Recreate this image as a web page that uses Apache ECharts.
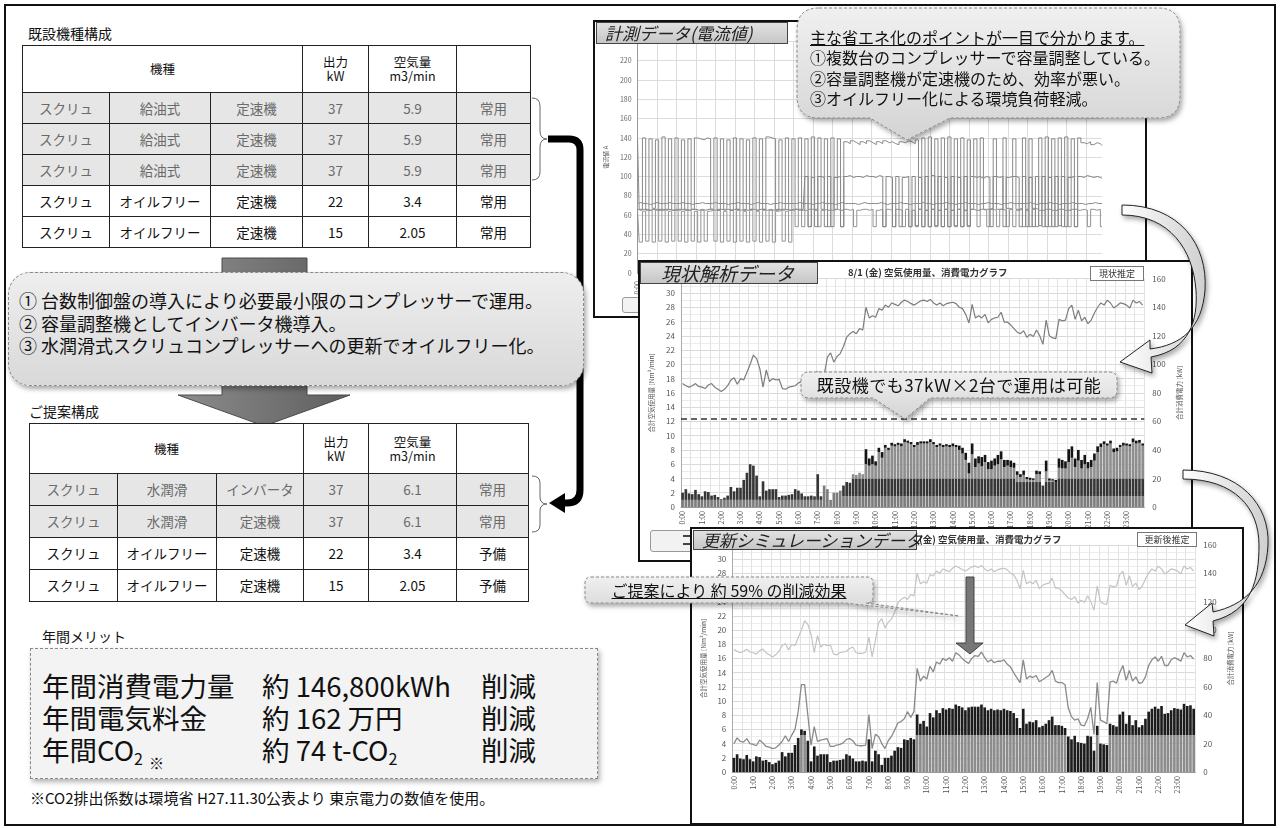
<!DOCTYPE html>
<html lang="ja">
<head>
<meta charset="utf-8">
<title>コンプレッサー更新のご提案</title>
<script src="https://cdn.jsdelivr.net/npm/echarts@6/dist/echarts.min.js"></script>
<style>
html,body{margin:0;padding:0;background:#fff;}
body{width:1280px;height:828px;position:relative;overflow:hidden;font-family:"Noto Sans CJK JP","Noto Sans",sans-serif;color:#111;}
.abs{position:absolute;}
#frame{left:4px;top:4px;width:1272px;height:822px;border:2px solid #111;box-sizing:border-box;z-index:0;}
.h{font-size:14px;white-space:nowrap;}
table.spec{position:absolute;border-collapse:collapse;table-layout:fixed;font-size:13.5px;z-index:3;background:#fff;}
table.spec td{border:1px solid #222;text-align:center;padding:0;line-height:1.1;}
table.spec tr.g td{background:#e6e6e6;color:#6a6a6a;}
table.spec td.hd{font-size:12.5px;}
.box1{left:8px;top:272px;width:576px;height:114px;border-radius:22px;border:1px dashed #8a8a8a;box-sizing:border-box;
  background:linear-gradient(#eeeeee,#d9d9d9);box-shadow:2px 3px 5px rgba(0,0,0,0.35);z-index:2;}
.box1 div{position:absolute;left:10px;top:16px;font-size:18px;line-height:22.5px;white-space:nowrap;color:#111;}
.merit{left:30px;top:648px;width:568px;height:131px;border:1px dashed #888;box-sizing:border-box;background:#f3f3f3;
  box-shadow:2px 3px 5px rgba(0,0,0,0.3);z-index:2;}
.ml{position:absolute;font-size:27.5px;line-height:32px;white-space:nowrap;color:#111;}
.ml sub{font-size:16px;vertical-align:-4px;}
.panel{position:absolute;border:2px solid #111;background:#fff;box-sizing:border-box;}
.tab{position:absolute;background:linear-gradient(#e2e2e2,#c6c6c6);border:1px solid #444;box-sizing:border-box;
  font-style:italic;white-space:nowrap;color:#222;z-index:5;padding-left:8px;}
.ttl{position:absolute;font-size:9.5px;font-weight:bold;color:#333;white-space:nowrap;z-index:4;}
.tag{position:absolute;font-size:9px;border:1px solid #777;box-sizing:border-box;text-align:center;color:#333;background:#fff;z-index:4;line-height:13px;}
.chart{position:absolute;left:0;top:0;}
.btn{position:absolute;background:#f2f2f2;border:1px solid #999;border-radius:3px;box-sizing:border-box;}
.ctext{position:absolute;white-space:nowrap;color:#111;}
svg{position:absolute;left:0;top:0;overflow:visible;}
</style>
</head>
<body>
<div id="frame" class="abs"></div>

<!-- left column: existing configuration -->
<div class="abs h" style="left:28px;top:23px;">既設機種構成</div>
<table class="spec" style="left:22px;top:45px;">
  <colgroup><col style="width:87px"><col style="width:101px"><col style="width:92px"><col style="width:66px"><col style="width:88px"><col style="width:74px"></colgroup>
  <tr style="height:47px"><td colspan="3" class="hd">機種</td><td class="hd">出力<br>kW</td><td class="hd">空気量<br>m3/min</td><td></td></tr>
  <tr class="g" style="height:31px"><td>スクリュ</td><td>給油式</td><td>定速機</td><td>37</td><td>5.9</td><td>常用</td></tr>
  <tr class="g" style="height:31px"><td>スクリュ</td><td>給油式</td><td>定速機</td><td>37</td><td>5.9</td><td>常用</td></tr>
  <tr class="g" style="height:31px"><td>スクリュ</td><td>給油式</td><td>定速機</td><td>37</td><td>5.9</td><td>常用</td></tr>
  <tr style="height:31px"><td>スクリュ</td><td>オイルフリー</td><td>定速機</td><td>22</td><td>3.4</td><td>常用</td></tr>
  <tr style="height:31px"><td>スクリュ</td><td>オイルフリー</td><td>定速機</td><td>15</td><td>2.05</td><td>常用</td></tr>
</table>

<svg width="1280" height="828" style="z-index:1">
  <defs>
    <linearGradient id="gArrow" x1="0" y1="0" x2="1" y2="0">
      <stop offset="0" stop-color="#8c8c8c"/><stop offset="1" stop-color="#5e5e5e"/>
    </linearGradient>
  </defs>
  <!-- big grey arrow running behind the summary box -->
  <polygon points="222,258 307,258 307,395 350,395 264,426 178,395 222,395" fill="url(#gArrow)" stroke="#4a4a4a" stroke-width="1"/>
  <!-- connector from existing group to proposed group -->
  <path d="M548,139 H569 Q580,139 580,150 V490 Q580,503 567,503 H562" fill="none" stroke="#000" stroke-width="7"/>
  <polygon points="549,503 565,493 565,513" fill="#000"/>
</svg>
<svg width="1280" height="828" style="z-index:3">
  <path d="M532,98 Q540,98 540,106 V131 Q540,139 547,139 Q540,139 540,147 V172 Q540,180 532,180" fill="none" stroke="#666" stroke-width="1"/>
  <path d="M532,476 Q540,476 540,483 V497 Q540,504 547,504 Q540,504 540,511 V525 Q540,532 532,532" fill="none" stroke="#666" stroke-width="1"/>
</svg>

<div class="abs box1"><div>① 台数制御盤の導入により必要最小限のコンプレッサーで運用。<br>② 容量調整機としてインバータ機導入。<br>③ 水潤滑式スクリュコンプレッサーへの更新でオイルフリー化。</div></div>

<div class="abs h" style="left:29px;top:401px;z-index:3;">ご提案構成</div>
<table class="spec" style="left:29px;top:423px;">
  <colgroup><col style="width:88px"><col style="width:99px"><col style="width:87px"><col style="width:65px"><col style="width:88px"><col style="width:72px"></colgroup>
  <tr style="height:50px"><td colspan="3" class="hd">機種</td><td class="hd">出力<br>kW</td><td class="hd">空気量<br>m3/min</td><td></td></tr>
  <tr class="g" style="height:32px"><td>スクリュ</td><td>水潤滑</td><td>インバータ</td><td>37</td><td>6.1</td><td>常用</td></tr>
  <tr class="g" style="height:32px"><td>スクリュ</td><td>水潤滑</td><td>定速機</td><td>37</td><td>6.1</td><td>常用</td></tr>
  <tr style="height:32px"><td>スクリュ</td><td>オイルフリー</td><td>定速機</td><td>22</td><td>3.4</td><td>予備</td></tr>
  <tr style="height:32px"><td>スクリュ</td><td>オイルフリー</td><td>定速機</td><td>15</td><td>2.05</td><td>予備</td></tr>
</table>

<div class="abs h" style="left:42px;top:626px;">年間メリット</div>
<div class="abs merit">
  <div class="ml" style="left:11px;top:20px;">年間消費電力量</div>
  <div class="ml" style="left:231px;top:20px;">約 146,800kWh</div>
  <div class="ml" style="left:450px;top:20px;">削減</div>
  <div class="ml" style="left:11px;top:52px;">年間電気料金</div>
  <div class="ml" style="left:231px;top:52px;">約 162 万円</div>
  <div class="ml" style="left:450px;top:52px;">削減</div>
  <div class="ml" style="left:11px;top:84px;">年間CO<sub>2</sub></div>
  <div class="ml" style="left:118px;top:106px;font-size:15px;line-height:16px;">※</div>
  <div class="ml" style="left:231px;top:84px;">約 74 t-CO<sub>2</sub></div>
  <div class="ml" style="left:450px;top:84px;">削減</div>
</div>
<div class="abs" style="left:30px;top:787px;font-size:15px;white-space:nowrap;">※CO2排出係数は環境省 H27.11.30公表より 東京電力の数値を使用。</div>

<!-- measured current panel -->
<div class="panel" style="left:593px;top:20px;width:554px;height:298px;z-index:3;">
  <div id="c1" class="chart" style="width:550px;height:294px;"></div>
  <div class="tab" style="left:1px;top:0;width:192px;height:22px;font-size:17px;line-height:20px;">計測データ(電流値)</div>
  <div class="btn" style="left:27px;top:275px;width:40px;height:16px;"></div>
</div>

<svg width="1280" height="828" style="z-index:4">
  <defs>
    <linearGradient id="gBub" x1="0" y1="0" x2="0" y2="1">
      <stop offset="0" stop-color="#f0f0f0"/><stop offset="1" stop-color="#d4d4d4"/>
    </linearGradient>
    <filter id="sh" x="-10%" y="-10%" width="130%" height="140%">
      <feDropShadow dx="2" dy="3" stdDeviation="2.5" flood-color="#000" flood-opacity="0.35"/>
    </filter>
  </defs>
  <path d="M819,8 H1158 Q1180,8 1180,30 V96 Q1180,118 1158,118 H950 L907,140 L870,118 H819 Q797,118 797,96 V30 Q797,8 819,8 Z"
        fill="url(#gBub)" stroke="#888" stroke-dasharray="3,2" filter="url(#sh)"/>
</svg>
<div class="ctext" style="left:810px;top:27px;font-size:16px;line-height:20.4px;z-index:4;">
  <span style="text-decoration:underline;">主な省エネ化のポイントが一目で分かります。</span><br>①複数台のコンプレッサーで容量調整している。<br>②容量調整機が定速機のため、効率が悪い。<br>③オイルフリー化による環境負荷軽減。
</div>

<!-- present-state analysis panel -->
<div class="panel" style="left:638px;top:260px;width:555px;height:302px;z-index:5;">
  <div id="c2" class="chart" style="width:551px;height:298px;"></div>
  <div class="tab" style="left:0;top:0;width:178px;height:22px;font-size:19px;line-height:20px;padding-left:20px;">現状解析データ</div>
  <div class="ttl" style="left:208px;top:3px;">8/1 (金) 空気使用量、消費電力グラフ</div>
  <div class="tag" style="left:450px;top:4px;width:54px;height:15px;">現状推定</div>
  <div class="btn" style="left:10px;top:268px;width:50px;height:22px;"></div>
  <div class="abs" style="left:43px;top:273px;width:8px;height:2px;background:#444;"></div>
  <div class="abs" style="left:43px;top:281px;width:8px;height:2px;background:#444;"></div>
</div>
<svg width="1280" height="828" style="z-index:6">
  <path d="M809,372 H1109 Q1117,372 1117,380 V390 Q1117,398 1109,398 H930 L905,419 L873,398 H809 Q801,398 801,390 V380 Q801,372 809,372 Z"
        fill="url(#gBub)" stroke="#888" stroke-dasharray="3,2" filter="url(#sh)"/>
</svg>
<div class="ctext" style="left:801px;top:373px;width:316px;text-align:center;font-size:17px;line-height:24px;z-index:6;letter-spacing:0.5px;">既設機でも37kＷ×2台で運用は可能</div>

<!-- curved arrow: measured -> present-state -->
<svg width="1280" height="828" style="z-index:6">
  <defs>
    <linearGradient id="gCurve" x1="0" y1="0" x2="1" y2="0">
      <stop offset="0" stop-color="#ffffff"/><stop offset="1" stop-color="#cfcfcf"/>
    </linearGradient>
  </defs>
  <path d="M1122,205 C1180,205 1208,245 1205,290 C1202,328 1182,345 1150,349 L1150,340 L1120,362 L1152,373 L1151,357 C1190,350 1198,320 1196,290 C1193,250 1170,215 1122,215 Z"
        fill="url(#gCurve)" stroke="#222" stroke-width="1" filter="url(#sh)"/>
</svg>

<!-- simulated panel after renewal -->
<div class="panel" style="left:690px;top:527px;width:554px;height:298px;z-index:7;">
  <div id="c3" class="chart" style="width:550px;height:294px;"></div>
  <div class="tab" style="left:1px;top:1px;width:224px;height:20px;font-size:17px;line-height:18px;">更新シミュレーションデータ</div>
  <div class="ttl" style="left:210px;top:3px;">8/1 (金) 空気使用量、消費電力グラフ</div>
  <div class="tag" style="left:445px;top:3px;width:60px;height:15px;">更新後推定</div>
</div>
<svg width="1280" height="828" style="z-index:8">
  <polygon points="966,577 974,577 974,643 983,643 970,654 956,643 966,643" fill="#777" stroke="#444" stroke-width="1"/>
  <path d="M591,577 H867 Q873,577 873,583 V597 Q873,603 867,603 H866 L959,616 L845,603 H591 Q585,603 585,597 V583 Q585,577 591,577 Z"
        fill="url(#gBub)" stroke="#888" stroke-dasharray="3,2" filter="url(#sh)"/>
</svg>
<div class="ctext" style="left:585px;top:578px;width:288px;text-align:center;font-size:16px;line-height:24px;z-index:8;text-decoration:underline;">ご提案により 約 59% の削減効果</div>

<!-- curved arrow: present-state -> simulated -->
<svg width="1280" height="828" style="z-index:9">
  <path d="M1183,470 C1240,470 1270,505 1268,545 C1266,585 1245,605 1213,612 L1212,603 L1185,625 L1214,636 L1213,621 C1252,611 1259,580 1259,545 C1259,508 1235,479 1183,479 Z"
        fill="url(#gCurve)" stroke="#222" stroke-width="1" filter="url(#sh)"/>
</svg>

<script>
// ---- time axis: one category per 10 minutes ----
const hourLabels = ['0:00','1:00','2:00','3:00','4:00','5:00','6:00','7:00','8:00','9:00','10:00','11:00',
  '12:00','13:00','14:00','15:00','16:00','17:00','18:00','19:00','20:00','21:00','22:00','23:00'];
const minuteMarks = ['00','10','20','30','40','50'];
const slots = [];
hourLabels.forEach((h, i) => minuteMarks.forEach(m => slots.push(i + ':' + m)));

// ---- measured current of each compressor [A] ----
const currentA = [
  138,66,140,65,139,67,138,65,141,66,139,65,
  140,66,138,65,139,66,140,139,138,140,139,66,
  140,65,139,66,138,65,140,66,139,65,138,66,
  140,65,139,66,141,140,139,65,138,66,140,65,
  139,66,140,65,139,66,141,65,140,66,139,65,
  140,66,139,65,136,134,137,135,133,136,134,137,
  135,133,136,134,137,135,136,134,133,136,135,137,
  136,134,138,66,140,65,141,66,139,65,140,66,
  141,65,139,66,140,65,138,66,139,65,140,66,
  66,67,139,66,66,140,67,66,139,66,67,140,
  66,139,67,66,140,65,141,66,139,65,140,66,
  141,65,139,66,140,135,134,136,133,135,134,132];
const currentB = [
  66,65,66,66,65,66,65,66,66,65,66,65,
  66,65,66,66,65,66,66,65,66,65,66,66,
  65,66,66,65,66,65,66,66,65,66,65,66,
  66,65,66,66,65,66,65,66,66,65,66,65,
  66,66,65,66,100,48,99,48,100,99,48,100,
  48,99,100,48,100,101,99,100,100,99,101,100,
  100,99,101,100,48,100,99,48,100,48,99,100,
  48,100,49,99,48,100,48,101,49,100,48,99,
  48,100,49,99,48,100,49,100,99,100,98,100,
  99,48,100,99,100,48,99,100,100,99,48,100,
  48,99,48,100,49,100,48,99,48,100,49,100,
  48,99,100,48,100,99,101,100,99,100,99,98];
const currentC = [
  65,32,64,33,65,32,66,33,65,32,64,33,
  65,33,64,32,65,33,64,32,65,33,64,65,
  33,65,32,64,33,65,32,65,33,64,32,65,
  33,64,32,65,33,65,32,64,65,33,64,32,
  65,48,66,48,65,48,66,66,48,65,66,48,
  65,66,65,48,66,65,66,48,65,66,66,65,
  66,48,65,66,48,66,65,48,66,65,48,66,
  48,65,48,66,48,65,48,66,48,65,48,66,
  48,65,48,66,48,65,48,66,65,48,66,65,
  48,66,65,48,66,65,48,66,48,65,66,48,
  65,48,66,48,65,48,66,48,65,48,66,48,
  65,48,66,48,65,66,65,48,66,65,66,48];
const currentD = [
  72,73,72,72,71,72,73,72,72,72,73,72,
  72,72,73,72,72,71,72,72,73,72,72,72,
  73,72,72,72,71,72,72,73,72,72,72,71,
  72,73,72,72,72,71,72,72,73,72,72,72,
  72,72,73,72,72,72,71,72,72,73,72,72,
  72,71,72,73,72,72,72,72,71,72,73,72,
  72,72,72,73,72,71,72,72,72,73,72,72,
  71,72,72,72,73,72,72,71,72,72,72,73,
  72,72,71,72,72,73,72,72,72,71,72,72,
  73,72,72,72,71,72,72,73,72,72,72,72,
  72,73,72,71,72,72,72,73,72,72,71,72,
  72,72,73,72,72,72,71,72,72,73,72,72];

// ---- present state: air usage split by running unit [Nm3/min] ----
const airBase = [
  1.0,1.0,1.0,1.0,1.0,1.0,1.0,1.0,1.0,1.0,1.0,1.0,
  1.0,1.0,1.0,1.0,1.0,1.0,1.0,1.0,1.0,1.0,1.0,1.0,
  1.0,1.0,1.0,1.0,1.0,1.0,1.0,1.0,1.0,1.0,1.0,1.0,
  1.0,1.0,1.0,1.0,1.0,1.0,1.0,1.0,3.0,2.5,1.0,2.0,
  2.0,2.3,1.5,1.5,1.5,1.5,1.5,1.5,1.5,1.5,1.5,1.5,
  1.5,1.5,1.5,1.5,1.5,1.5,1.5,1.5,1.5,1.5,1.5,1.5,
  1.5,1.5,1.5,1.5,1.5,1.5,1.5,1.5,1.5,1.5,1.5,1.5,
  1.5,1.5,1.5,1.5,1.5,1.5,1.5,1.5,1.5,1.5,1.5,1.5,
  1.5,1.5,1.5,1.5,1.5,1.5,1.5,1.5,1.5,1.5,1.5,1.5,
  1.5,1.5,1.5,1.5,1.5,1.5,1.5,1.5,1.5,1.5,1.5,1.5,
  1.5,1.5,1.5,1.5,1.5,1.5,1.5,1.5,1.5,1.5,1.5,1.5,
  1.5,1.5,1.5,1.5,1.5,1.5,1.5,1.5,1.5,1.5,1.5,1.5];
const airDark = [
  1.0,1.5,0.9,0.8,1.4,0.8,0.5,1.2,1.1,0.6,0.7,0.4,
  0.1,0.3,0.6,1.8,1.2,1.7,1.7,2.8,3.8,5.0,4.8,3.4,
  0.5,2.6,1.3,1.5,1.5,1.5,0.4,0.6,0.6,0.7,0.8,1.5,
  1.3,0.9,0.5,0.5,0.6,0.5,3.6,0.5,0,0,0,0,
  0,0,1.5,2.0,1.9,2.5,2.5,2.5,2.5,2.5,2.5,2.5,
  2.5,2.5,2.5,2.5,2.5,2.5,2.5,2.5,2.5,2.5,2.5,2.5,
  2.5,2.5,2.5,2.5,2.5,2.5,2.5,2.5,2.5,2.5,2.5,2.5,
  2.5,2.5,2.5,2.5,2.5,2.5,2.5,2.5,2.5,2.5,2.5,2.5,
  2.5,2.5,2.5,2.5,2.5,2.5,2.5,2.5,2.0,2.0,2.0,2.0,
  2.0,2.0,2.0,2.0,1.5,2.0,2.0,2.0,2.0,2.5,2.5,2.5,
  2.5,2.5,2.5,2.5,2.5,2.5,2.5,2.5,2.5,2.5,2.5,2.5,
  2.5,2.5,2.5,2.5,2.5,2.5,2.5,2.5,2.5,2.5,2.5,2.5];
const airMid = [
  0,0,0,0,0,0,0,0,0,0,0,0,
  0,0,0,0,0,0,0,0,0,0,0,0,
  0,0,0,0,0,0,0,0,0,0,0,0,
  0,0,0,0,0,0,0,0,0,0,0,0,
  0,0,0,0,0,0.6,0.5,0.8,0.6,2.0,1.8,2.0,
  1.8,3.7,2.9,4.3,4.0,4.6,4.5,4.7,4.5,5.1,5.0,4.8,
  4.4,4.7,4.9,4.9,4.9,5.1,4.8,4.4,4.6,4.4,4.5,4.4,
  4.5,4.4,4.0,3.5,2.6,0.7,3.4,1.6,2.1,1.7,2.3,1.3,
  1.3,1.8,2.0,2.7,1.6,1.8,1.6,1.5,1.0,0.7,1.0,0.4,
  0.3,0.3,1.1,1.1,0,1.5,0.2,0.2,0,1.5,1.4,1.4,
  2.3,2.9,1.6,2.5,1.4,2.0,1.4,1.6,2.5,3.7,4.4,4.8,
  4.6,4.9,3.7,3.8,4.4,4.6,4.6,4.5,5.1,4.9,5.0,4.6];
const airTop = [
  0,0,0,0,0,0,0,0,0,0,0,0,
  0,0,0,0,0,0,0,0,0,0,0,0,
  0,0,0,0,0,0,0,0,0,0,0,0,
  0,0,0,0,0,0,0,0,0,0,0,0,
  0,0,0,0,0,0,0,0,0,2.1,1.0,1.2,
  0.6,0.6,0.8,0.4,0.3,0.4,0.3,0.3,0.4,0.4,0.3,0.3,
  0.3,0.4,0.3,0.3,0.3,0.4,0.3,0.3,0.3,0.3,0.3,0.3,
  0.4,0.3,0.6,0.8,1.0,1.5,1.5,1.2,1.0,1.3,1.0,1.0,
  1.2,1.0,1.3,1.1,1.0,0.8,0.9,0.7,0.5,0.4,0.6,0.3,
  0.3,0.2,0.5,0.4,0,1.5,0.3,0.2,0.3,1.3,1.2,1.0,
  1.8,1.6,1.2,1.5,1.2,1.3,0.9,1.0,1.0,0.8,0.5,0.4,
  0.3,0.4,0.5,0.5,0.3,0.4,0.3,0.3,0.5,0.4,0.4,0.3];
// total power before renewal [kW]
const powerNow = [
  86.5,85,84,85,86.5,84.5,84,83,85.5,86.5,84,82.5,
  81,82.5,85,89,90.5,86,90,89,94.5,100,106.5,104,
  97,84,96,88,90,89,89.5,83,82.5,84,84.5,85,
  87,88,84,83.5,83.5,84.5,95,81,92.5,105,108,101.5,
  105.5,107.5,112.5,119,121.5,123,121.5,125,124,140,132.5,134,
  133,139,138,141.5,140,143,142,141,143.5,145,144,142.5,
  141.5,143,144.5,145,144,145.5,143,141.5,143,141,142.5,143,
  143.5,142.5,140,139,135,129,142,132.5,134,132.5,135,129,
  131.5,132.5,133,136.5,129.5,129.5,127.5,125,122.5,121.5,123.5,119,
  121,119.5,124,120,114,131,120,118.5,118,131.5,130.5,131,
  139,141.5,131.5,138,130.5,133,128.5,131,136,140,143,141.5,
  145,143,139.5,141,143,142.5,141.5,139.5,145,143,144,141.5];
const capacityLine = 12.4;

// ---- after renewal: fixed-speed unit + inverter unit [Nm3/min] ----
const airFixed = [
  0,0,0,0,0,0,0,0,0,0,0,0,
  0,0,0,0,0,0,0,0,0,5.2,5.2,0,
  0,0,0,0,0,0,0,0,0,0,0,0,
  0,0,0,0,0,0,0,0,0,0,0,0,
  0,0,0,0,0,0,0,0,0,5.2,5.2,5.2,
  5.2,5.2,5.2,5.2,5.2,5.2,5.2,5.2,5.2,5.2,5.2,5.2,
  5.2,5.2,5.2,5.2,5.2,5.2,5.2,5.2,5.2,5.2,5.2,5.2,
  5.2,5.2,5.2,5.2,5.2,5.2,5.2,5.2,5.2,5.2,5.2,5.2,
  5.2,5.2,5.2,5.2,5.2,5.2,5.2,5.2,0,0,0,0,
  0,0,0,0,0,5.2,0,0,0,5.2,5.2,5.2,
  5.2,5.2,5.2,5.2,5.2,5.2,5.2,5.2,5.2,5.2,5.2,5.2,
  5.2,5.2,5.2,5.2,5.2,5.2,5.2,5.2,5.2,5.2,5.2,5.2];
const airInverter = [
  2.0,2.5,1.9,1.8,2.4,1.8,1.5,2.2,2.1,1.6,1.7,1.4,
  1.1,1.3,1.6,2.8,2.2,2.7,2.7,3.8,4.8,0.8,0.6,4.4,
  1.5,3.6,2.3,2.5,2.5,2.5,1.4,1.6,1.6,1.7,1.8,2.5,
  2.3,1.9,1.5,1.5,1.6,1.5,4.6,1.5,3.0,2.5,1.0,2.0,
  2.0,2.3,3.0,3.5,3.4,4.6,4.5,4.8,4.6,2.9,1.6,2.0,
  1.2,3.1,2.5,3.5,3.1,3.8,3.6,3.8,3.7,4.3,4.1,3.9,
  3.5,3.9,4.0,4.0,4.0,4.3,3.9,3.5,3.7,3.5,3.6,3.5,
  3.7,3.5,3.4,3.1,2.4,1.0,3.7,1.6,1.9,1.8,2.1,1.1,
  1.3,1.6,2.1,2.6,1.4,1.4,1.3,1.0,5.0,4.6,5.1,4.2,
  4.1,4.0,5.1,5.0,3.0,1.3,4.0,3.9,3.8,1.6,1.4,1.2,
  2.9,3.3,1.6,2.8,1.4,2.1,1.1,1.4,2.3,3.3,3.7,4.0,
  3.7,4.1,3.0,3.1,3.5,3.8,3.7,3.6,4.4,4.1,4.2,3.7];
// total power after renewal [kW]
const powerNew = [
  20,24,21.5,21,23.5,20,19.5,18.5,22.5,20.5,18,17.5,
  16.5,17,19,21.5,25.5,21.5,26,30,42.5,61.5,61.5,40,
  19,32,21.5,22.5,23,23.5,18,18,19,19.5,20.5,23,
  23.5,22,19,18.5,18.5,19,40.5,16.5,26.5,25,20,16.5,
  22,25,29.5,34.5,35.5,37.5,42.5,38.5,42.5,73,64,67.5,
  65.5,74.5,70.5,77.5,76,80,78.5,80.5,78,84,82.5,80,
  78,76.5,80,82,81.5,84.5,80.5,77.5,79,77,78,78,
  79,76,74,70,66.5,63,79,65.5,67.5,66.5,68,63.5,
  65,66.5,68,71.5,64,63,63,61.5,45,39,36.5,37.5,
  33,32.5,37.5,45.5,26.5,63,36.5,35.5,34,63.5,64,62.5,
  70,75,64.5,71.5,64,67,62.5,63,67,75,79,81,
  78,81.5,75,75,79,80.5,79.5,78,84,81,82,79.5];

const FONT = 'Noto Sans CJK JP';
const hourOnly = (v, i) => (i % 6 === 0 ? v : '');

// ---------- measured current ----------
const c1 = echarts.init(document.getElementById('c1'));
// compressors switch between load and unload, so draw the current as steps
const currentLine = (name, data, color, step) => ({
  name, type: 'line', data, symbol: 'none', animation: false, step,
  lineStyle: { width: 1, color }, itemStyle: { color }
});
c1.setOption({
  animation: false,
  textStyle: { fontFamily: FONT },
  grid: { left: 40, top: 19.4, width: 467, height: 231.6 },
  xAxis: {
    type: 'category', data: slots, boundaryGap: false,
    axisLine: { lineStyle: { color: '#999' } }, axisTick: { show: false },
    axisLabel: { interval: 5, rotate: 90, fontSize: 7, color: '#666', formatter: hourOnly },
    splitLine: { show: true, interval: 5, lineStyle: { color: '#dcdcdc', width: 1 } }
  },
  yAxis: {
    type: 'value', min: 0, max: 240, interval: 20,
    axisLine: { show: true, lineStyle: { color: '#999' } },
    axisLabel: { fontSize: 7, color: '#666', margin: 6 },
    splitLine: { lineStyle: { color: '#dcdcdc' } },
    name: '電流値 A', nameLocation: 'middle', nameGap: 22, nameRotate: 90,
    nameTextStyle: { fontSize: 6, color: '#555' }
  },
  series: [
    currentLine('No.4', currentD, '#8a8a8a', false),
    currentLine('No.5', currentC, '#939393', 'middle'),
    currentLine('No.2', currentB, '#858585', 'middle'),
    currentLine('No.1', currentA, '#8a8a8a', 'middle')
  ]
});

// shared look for the two airflow / power charts
function airChart(el, grid, barSeries, lineSeries) {
  const ch = echarts.init(el);
  ch.setOption({
    animation: false,
    textStyle: { fontFamily: FONT },
    grid,
    xAxis: {
      type: 'category', data: slots,
      axisLine: { lineStyle: { color: '#999' } }, axisTick: { show: false },
      axisLabel: { interval: 5, rotate: 90, fontSize: 7, color: '#555', margin: 4, formatter: hourOnly },
      splitLine: { show: true, interval: 2, lineStyle: { color: '#e2e2e2' } }
    },
    yAxis: [{
      type: 'value', min: 0, max: 32, interval: 2,
      axisLine: { show: true, lineStyle: { color: '#aaa' } },
      axisLabel: { fontSize: 8, color: '#555', margin: 6 },
      splitLine: { lineStyle: { color: '#dadada' } },
      minorTick: { show: false, splitNumber: 2 },
      minorSplitLine: { show: true, lineStyle: { color: '#ededed' } },
      name: '合計空気使用量 [Nm³/min]', nameLocation: 'middle', nameGap: 24, nameRotate: 90,
      nameTextStyle: { fontSize: 6.5, color: '#555' }
    }, {
      type: 'value', min: 0, max: 160, interval: 20, position: 'right',
      axisLine: { show: false },
      axisLabel: { fontSize: 8, color: '#555', margin: 8 },
      splitLine: { show: false },
      name: '合計消費電力 [kW]', nameLocation: 'middle', nameGap: 32, nameRotate: 90,
      nameTextStyle: { fontSize: 6.5, color: '#555' }
    }],
    series: barSeries.concat(lineSeries)
  });
  return ch;
}
const bar = (name, data, color) => ({
  name, type: 'bar', stack: 'air', data, barCategoryGap: '18%',
  itemStyle: { color }, animation: false
});
const pline = (name, data, color, width) => ({
  name, type: 'line', yAxisIndex: 1, data, symbol: 'none', smooth: false,
  lineStyle: { color, width }, itemStyle: { color }, z: 5, animation: false
});

// ---------- present state ----------
const dashed = pline('現状消費電力', powerNow, '#7d7d7d', 1.2);
dashed.markLine = {
  silent: true, symbol: 'none', label: { show: false },
  lineStyle: { type: [6, 4], color: '#333', width: 1.5 },
  data: [{ yAxis: capacityLine * 5 }]
};
airChart(document.getElementById('c2'),
  { left: 41, top: 16.7, width: 466, height: 228.3 },
  [bar('No.5', airBase, '#7c7c7c'), bar('No.3', airDark, '#363636'),
   bar('No.2', airMid, '#8e8e8e'), bar('No.1', airTop, '#141414')],
  [dashed]);

// ---------- after renewal ----------
airChart(document.getElementById('c3'),
  { left: 40, top: 15.8, width: 465, height: 227.2 },
  [bar('定速機', airFixed, '#8c8c8c'), bar('インバータ', airInverter, '#1c1c1c')],
  [pline('現状消費電力', powerNow, '#c4c4c4', 1.2), pline('更新後消費電力', powerNew, '#8a8a8a', 1.3)]);
</script>
</body>
</html>
